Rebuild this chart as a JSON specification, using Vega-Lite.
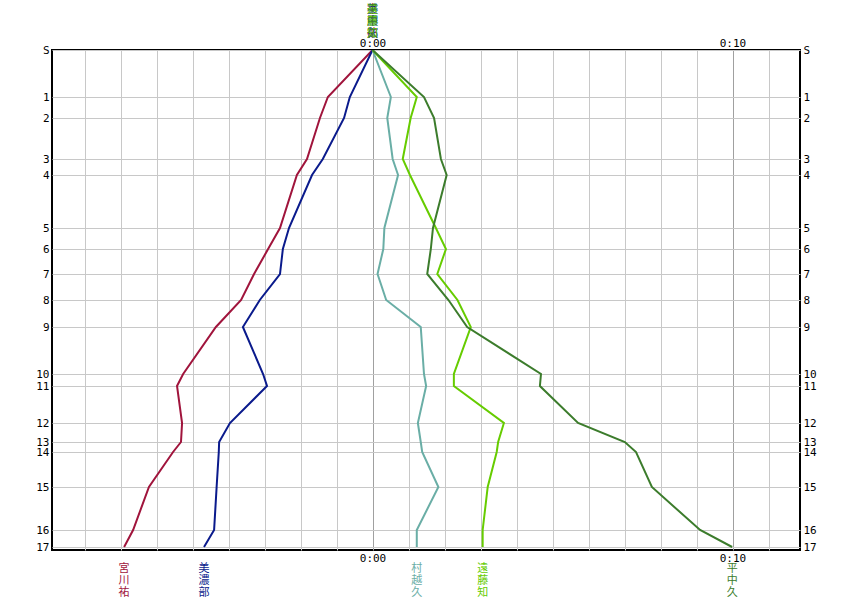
{
  "$schema": "https://vega.github.io/schema/vega-lite/v6.json",
  "width": 748,
  "height": 500,
  "autosize": {"type": "none"},
  "padding": {"left": 52, "top": 50, "right": 53, "bottom": 50},
  "background": "white",
  "config": {
    "view": {"stroke": "#000", "strokeWidth": 2},
    "text": {"font": "Noto Sans CJK JP"}
  },
  "datasets": {
    "runs": [
      {"s": "S", "d": 0, "宮川祐": 0, "美濃部": 0, "村越久": 0, "遠藤知": 0, "平中久": 0},
      {"s": "1", "d": 47, "宮川祐": -1.24, "美濃部": -0.63, "村越久": 0.51, "遠藤知": 1.23, "平中久": 1.43},
      {"s": "2", "d": 68, "宮川祐": -1.46, "美濃部": -0.79, "村越久": 0.41, "遠藤知": 1.06, "平中久": 1.71},
      {"s": "3", "d": 109, "宮川祐": -1.82, "美濃部": -1.38, "村越久": 0.56, "遠藤知": 0.84, "平中久": 1.9},
      {"s": "4", "d": 125, "宮川祐": -2.1, "美濃部": -1.68, "村越久": 0.71, "遠藤知": 1.04, "平中久": 2.06},
      {"s": "5", "d": 178, "宮川祐": -2.57, "美濃部": -2.32, "村越久": 0.33, "遠藤知": 1.76, "平中久": 1.68},
      {"s": "6", "d": 199, "宮川祐": -2.9, "美濃部": -2.49, "村越久": 0.3, "遠藤知": 2.04, "平中久": 1.62},
      {"s": "7", "d": 224, "宮川祐": -3.29, "美濃部": -2.57, "村越久": 0.14, "遠藤知": 1.8, "平中久": 1.52},
      {"s": "8", "d": 250, "宮川祐": -3.65, "美濃部": -3.13, "村越久": 0.38, "遠藤知": 2.36, "平中久": 2.11},
      {"s": "9", "d": 277, "宮川祐": -4.35, "美濃部": -3.6, "村越久": 1.34, "遠藤知": 2.73, "平中久": 2.63},
      {"s": "10", "d": 324, "宮川祐": -5.26, "美濃部": -3.04, "村越久": 1.43, "遠藤知": 2.26, "平中久": 4.68},
      {"s": "11", "d": 336, "宮川祐": -5.43, "美濃部": -2.93, "村越久": 1.49, "遠藤知": 2.26, "平中久": 4.65},
      {"s": "12", "d": 373, "宮川祐": -5.29, "美濃部": -3.96, "村越久": 1.26, "遠藤知": 3.65, "平中久": 5.71},
      {"s": "13", "d": 392, "宮川祐": -5.32, "美濃部": -4.26, "村越久": 1.34, "遠藤知": 3.49, "平中久": 7.01},
      {"s": "14", "d": 402, "宮川祐": -5.54, "美濃部": -4.27, "村越久": 1.38, "遠藤知": 3.45, "平中久": 7.32},
      {"s": "15", "d": 437, "宮川祐": -6.21, "美濃部": -4.33, "村越久": 1.83, "遠藤知": 3.2, "平中久": 7.76},
      {"s": "16", "d": 480, "宮川祐": -6.65, "美濃部": -4.4, "村越久": 1.23, "遠藤知": 3.06, "平中久": 9.1},
      {"s": "17", "d": 497, "宮川祐": -6.9, "美濃部": -4.68, "村越久": 1.23, "遠藤知": 3.06, "平中久": 9.99}
    ],
    "names": [
      {"n": "宮川祐", "v": "宮\n川\n祐"},
      {"n": "美濃部", "v": "美\n濃\n部"},
      {"n": "村越久", "v": "村\n越\n久"},
      {"n": "遠藤知", "v": "遠\n藤\n知"},
      {"n": "平中久", "v": "平\n中\n久"}
    ]
  },
  "layer": [
    {
      "data": {"name": "runs"},
      "transform": [
        {"fold": ["宮川祐", "美濃部", "村越久", "遠藤知", "平中久"], "as": ["n", "t"]}
      ],
      "mark": {"type": "line", "strokeWidth": 2, "clip": true},
      "encoding": {
        "x": {
          "field": "t", "type": "quantitative",
          "scale": {"domain": [-8.903, 11.875], "nice": false, "zero": false},
          "axis": {
            "orient": "bottom", "title": null,
            "values": [-8, -7, -6, -5, -4, -3, -2, -1, 0, 1, 2, 3, 4, 5, 6, 7, 8, 9, 10, 11],
            "grid": true,
            "gridColor": {"condition": {"test": "datum.value == 0 || datum.value == 10", "value": "#a0a0a0"}, "value": "#c8c8c8"},
            "gridOpacity": 1,
            "ticks": false, "domain": false,
            "labelExpr": "datum.value == 0 ? '0:00' : datum.value == 10 ? '0:10' : ''",
            "labelFont": "DejaVu Sans Mono", "labelFontSize": 11, "labelColor": "#000",
            "labelPadding": 2, "labelOverlap": false, "labelFlush": false
          }
        },
        "y": {
          "field": "d", "type": "quantitative",
          "scale": {"domain": [0, 500], "reverse": true, "nice": false, "zero": false},
          "axis": {
            "orient": "left", "title": null,
            "values": [0, 47, 68, 109, 125, 178, 199, 224, 250, 277, 324, 336, 373, 392, 402, 437, 480, 497],
            "grid": true, "gridColor": "#c8c8c8", "gridOpacity": 1,
            "ticks": false, "domain": false,
            "labelExpr": "datum.value == 0 ? 'S' : '' + (indexof([47, 68, 109, 125, 178, 199, 224, 250, 277, 324, 336, 373, 392, 402, 437, 480, 497], datum.value) + 1)",
            "labelFont": "DejaVu Sans Mono", "labelFontSize": 11, "labelColor": "#000",
            "labelPadding": 3, "labelOverlap": false, "labelFlush": false
          }
        },
        "color": {
          "field": "n", "type": "nominal",
          "scale": {"domain": ["宮川祐", "美濃部", "村越久", "遠藤知", "平中久"], "range": ["#a0143c", "#0a1a8c", "#6aaea6", "#66cc00", "#3c7c2c"]},
          "legend": null
        },
        "order": {"field": "d", "type": "quantitative"}
      }
    },
    {
      "data": {"name": "runs"},
      "transform": [
        {"filter": "datum.s == '17'"},
        {"fold": ["宮川祐", "美濃部", "村越久", "遠藤知", "平中久"], "as": ["n", "t"]},
        {"lookup": "n", "from": {"data": {"name": "names"}, "key": "n", "fields": ["v"]}}
      ],
      "mark": {"type": "text", "baseline": "top", "align": "center", "dy": 16, "fontSize": 11, "lineHeight": 12, "lineBreak": "\n", "font": "Noto Sans CJK JP"},
      "encoding": {
        "x": {
          "field": "t", "type": "quantitative",
          "axis": {
            "orient": "top", "title": null, "values": [0, 10], "grid": false,
            "ticks": false, "domain": false,
            "labelExpr": "datum.value == 0 ? '0:00' : '0:10'",
            "labelFont": "DejaVu Sans Mono", "labelFontSize": 11, "labelColor": "#000",
            "labelPadding": 2, "labelOverlap": false, "labelFlush": false
          }
        },
        "y": {
          "field": "d", "type": "quantitative",
          "axis": {
            "orient": "right", "title": null,
            "values": [0, 47, 68, 109, 125, 178, 199, 224, 250, 277, 324, 336, 373, 392, 402, 437, 480, 497],
            "grid": false, "ticks": false, "domain": false,
            "labelExpr": "datum.value == 0 ? 'S' : '' + (indexof([47, 68, 109, 125, 178, 199, 224, 250, 277, 324, 336, 373, 392, 402, 437, 480, 497], datum.value) + 1)",
            "labelFont": "DejaVu Sans Mono", "labelFontSize": 11, "labelColor": "#000",
            "labelPadding": 3, "labelOverlap": false, "labelFlush": false
          }
        },
        "text": {"field": "v", "type": "nominal"},
        "color": {"field": "n", "type": "nominal", "legend": null}
      }
    },
    {
      "data": {"name": "names"},
      "mark": {"type": "text", "baseline": "top", "align": "center", "dy": -46, "fontSize": 11, "lineHeight": 12, "lineBreak": "\n", "font": "Noto Sans CJK JP"},
      "encoding": {
        "x": {"datum": 0, "type": "quantitative", "axis": null},
        "y": {"datum": 0, "type": "quantitative", "axis": null},
        "text": {"field": "v", "type": "nominal"},
        "color": {"field": "n", "type": "nominal", "legend": null}
      }
    }
  ],
  "resolve": {"axis": {"x": "independent", "y": "independent"}}
}
